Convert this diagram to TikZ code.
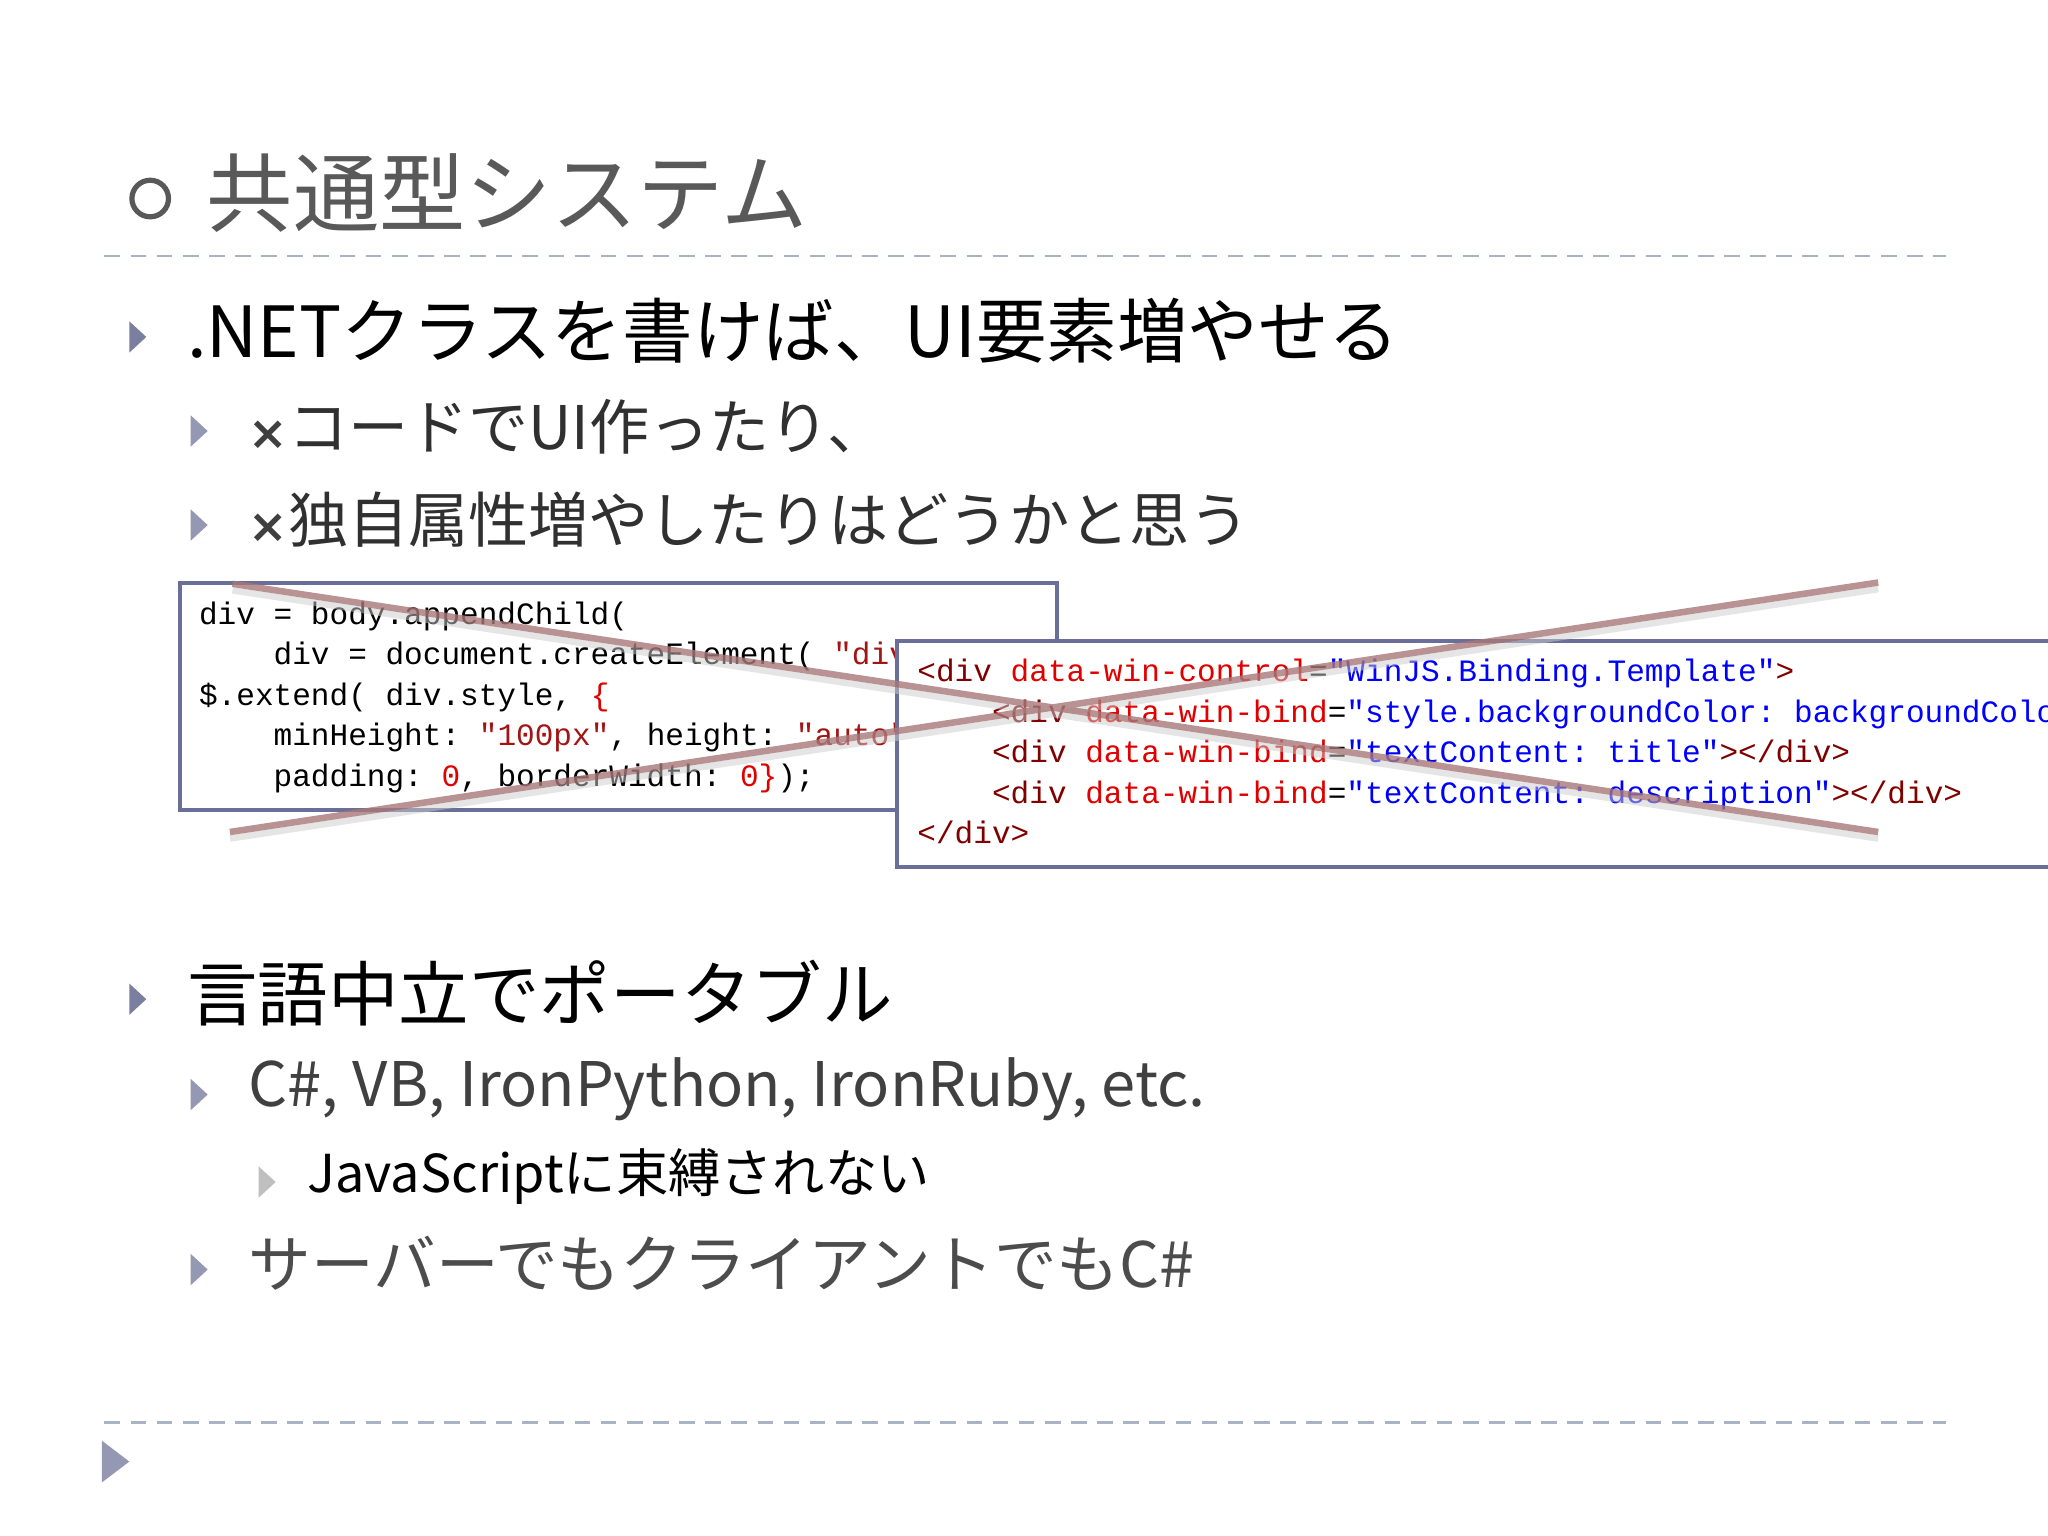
\documentclass[tikz,border=0pt]{standalone}
\usepackage{fontspec}
\setmainfont{Open Sans}
\newfontfamily\jp{Noto Sans CJK JP}
\newfontfamily\dv{DejaVu Sans}
\setmonofont{Liberation Mono}
\usetikzlibrary{calc}
\definecolor{tri}{HTML}{7A7FA0}
\definecolor{sepcol}{HTML}{A8B4C4}
\definecolor{boxc}{HTML}{6A6F99}
\definecolor{tag}{HTML}{800000}
\definecolor{att}{HTML}{E00000}
\definecolor{val}{HTML}{0000FF}
\definecolor{str}{HTML}{A31515}
\definecolor{txt}{HTML}{303030}
\definecolor{crossc}{HTML}{A87878}
\tikzset{
  lbl/.style={anchor=west,inner sep=0,text=txt},
  code/.style={anchor=base west,inner sep=0,font=\ttfamily\fontsize{11.9}{14}\selectfont},
  sep/.style={draw=sepcol,line width=1pt,dash pattern=on 6pt off 4pt},
}
\newcommand{\tri}[3]{\fill[#3] (#1-6,#2-12) -- (#1+7,#2) -- (#1-6,#2+12) -- cycle;}
\newcommand{\xx}{{\dv\bfseries\fontsize{18}{18}\selectfont\textcolor{black!75}{×}}}
\begin{document}
\begin{tikzpicture}[x=0.5pt,y=-0.5pt]
\useasboundingbox (0,0) rectangle (1568,1176);
\fill[white] (0,0) rectangle (1568,1176);
% title
\draw[black!65,line width=2pt] (115,152) circle (14);
\node[lbl,text=black!65,font=\jp\fontsize{33}{33}\selectfont] (title) at (158,148) {共通型システム};
\coordinate (d1a) at (80,196); \coordinate (d1b) at (1490,196);
\draw[sep] (d1a) -- (d1b);
% bullets
\tri{105}{258}{tri}
\node[lbl,text=black,font=\jp\fontsize{27}{27}\selectfont] (b1) at (143,253) {.NETクラスを書けば、UI要素増やせる};
\tri{152}{330}{tri!80}
\node[lbl,font=\jp\fontsize{23}{23}\selectfont] (b11) at (190,327) {\xx コードでUI作ったり、};
\tri{152}{402}{tri!80}
\node[lbl,font=\jp\fontsize{23}{23}\selectfont] (b12) at (190,398) {\xx 独自属性増やしたりはどうかと思う};
% box1
\node[draw=boxc,line width=1.5pt,fill=white,minimum width=336pt,minimum height=87pt,anchor=north west,inner sep=0] (box1) at (136,445) {};
\node[code] (c1) at (152,478) {div = body.appendChild(};
\node[code] (c2) at (152,509) {\ \ \ \ div = document.createElement( \textcolor{str}{"div"} ));};
\node[code] (c3) at (152,540) {\$.extend( div.style, \textcolor{att}{\{}};
\node[code] (c4) at (152,571) {\ \ \ \ minHeight: \textcolor{str}{"100px"}, height: \textcolor{str}{"auto"},};
\node[code] (c5) at (152,602) {\ \ \ \ padding: \textcolor{att}{0}, borderWidth: \textcolor{att}{0}\textcolor{att}{\}});};
% box2
\begin{scope}
\clip (600,480) rectangle (1568,680);
\node[draw=boxc,line width=1.5pt,fill=white,minimum width=460pt,minimum height=86.5pt,anchor=north west,inner sep=0] (box2) at (685,489) {};
\node[code] (e1) at (702,522) {\textcolor{tag}{<div} \textcolor{att}{data-win-control}=\textcolor{val}{"WinJS.Binding.Template"}\textcolor{tag}{>}};
\node[code] (e2) at (702,553) {\ \ \ \ \textcolor{tag}{<div} \textcolor{att}{data-win-bind}=\textcolor{val}{"style.backgroundColor: backgroundColor"}\textcolor{tag}{>}};
\node[code] (e3) at (702,584) {\ \ \ \ \textcolor{tag}{<div} \textcolor{att}{data-win-bind}=\textcolor{val}{"textContent: title"}\textcolor{tag}{></div>}};
\node[code] (e4) at (702,615) {\ \ \ \ \textcolor{tag}{<div} \textcolor{att}{data-win-bind}=\textcolor{val}{"textContent: description"}\textcolor{tag}{></div>}};
\node[code] (e5) at (702,646) {\textcolor{tag}{</div>}};
\end{scope}
% cross
\coordinate (xa) at (178,447); \coordinate (xb) at (1438,637);
\coordinate (xc) at (176,637); \coordinate (xd) at (1438,446);
\draw[black!20,line width=2.5pt,opacity=0.5] ($(xa)+(0,5)$) -- ($(xb)+(0,5)$) ($(xc)+(0,5)$) -- ($(xd)+(0,5)$);
\draw[crossc,line width=2.5pt,opacity=0.8] (xa) -- (xb) (xc) -- (xd);
% second section
\tri{105}{765}{tri}
\node[lbl,text=black,font=\jp\fontsize{27}{27}\selectfont] (b2) at (143,760) {言語中立でポータブル};
\tri{152}{838}{tri!80}
\node[lbl,text=black!75,font=\jp\fontsize{23.5}{23.5}\selectfont] (b21) at (190,834) {C\#, VB, IronPython, IronRuby, etc.};
\tri{204}{905}{black!25}
\node[lbl,text=black,font=\jp\fontsize{20}{20}\selectfont] (b211) at (235,901) {JavaScriptに束縛されない};
\tri{152}{972}{tri!80}
\node[lbl,text=black!70,font=\jp\fontsize{24}{24}\selectfont] (b22) at (190,967) {サーバーでもクライアントでもC\#};
\coordinate (d2a) at (80,1089); \coordinate (d2b) at (1490,1089);
\draw[sep] (d2a) -- (d2b);
\fill[tri!80] (78,1103) -- (99,1119) -- (78,1135) -- cycle;
\end{tikzpicture}
\end{document}
